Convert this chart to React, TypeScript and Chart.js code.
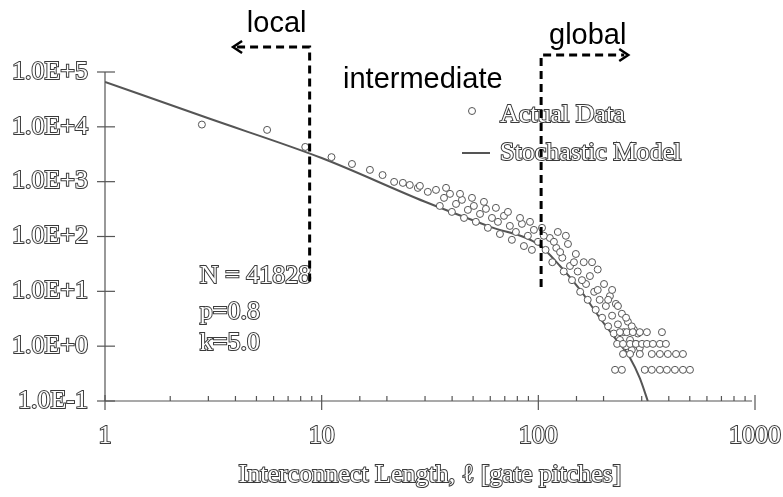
import React, { useEffect, useRef } from 'react';
import { Chart, registerables } from 'chart.js';
Chart.register(...registerables);

// ---- Data ----
const xTickValues = [1, 10, 100, 1000];
const xTickLabels = ['1', '10', '100', '1000'];
const yTickValues = [0.1, 1, 10, 100, 1000, 10000, 100000];
const yTickLabels = ['1.0E-1', '1.0E+0', '1.0E+1', '1.0E+2', '1.0E+3', '1.0E+4', '1.0E+5'];

const modelLength = [1, 3, 10, 30, 60, 100, 126, 156, 192, 226, 265, 294, 320];
const modelCount = [66000, 14300, 2700, 430, 150, 72, 29, 10.6, 3.3, 1.4, 0.61, 0.26, 0.1];

const actualLocal: [number, number][] = [
  [2.8, 11000], [5.6, 8800], [8.4, 4300], [11.1, 2800], [13.8, 2100], [16.7, 1640],
  [19.1, 1320], [21.6, 990], [23.7, 950], [25.5, 870], [27.8, 770],
];
const actualIntermediate: [number, number][] = [
  [28.4, 838], [30.9, 652], [33.7, 708], [36.7, 506], [39.1, 599], [41.7, 393], [44.4, 466],
  [47.3, 306], [50.4, 361], [53.8, 258], [57.3, 319], [61.1, 218], [65.1, 185], [69.4, 238],
  [73.9, 156], [78.8, 121], [84.0, 170], [89.5, 103], [95.4, 132], [99.6, 80],
  [35.1, 361], [39.9, 281], [45.4, 218], [51.5, 185], [58.5, 144], [66.5, 111], [75.5, 87],
  [85.8, 67], [93.4, 57],
  [37.5, 771], [43.5, 599], [49.4, 506], [56.1, 428], [63.7, 333], [72.4, 281], [82.3, 218], [91.5, 185],
];
const actualGlobal: [number, number][] = [
  [104, 144], [108, 57], [113, 94], [116, 34], [121, 62], [123, 121], [129, 41], [131, 23],
  [137, 73], [140, 29], [143, 16], [149, 48], [152, 23], [156, 9.8], [162, 34], [166, 13.6],
  [169, 7.0], [173, 19], [181, 9.8], [184, 4.6], [188, 25], [192, 7.0], [197, 3.3], [201, 13.6],
  [205, 5.4], [210, 2.3], [214, 8.2], [219, 3.6], [223, 1.7], [228, 5.9], [233, 2.5], [238, 1.3],
  [243, 3.9], [248, 1.8], [254, 1.0], [259, 2.8], [265, 1.3], [270, 0.85], [276, 2.0], [282, 1.1],
  [288, 1.7], [294, 0.93],
  [106, 103], [118, 80], [126, 52], [134, 103], [146, 34], [159, 16], [177, 34], [188, 10.6],
  [210, 7.0], [219, 10.6], [233, 5.4], [254, 3.3], [270, 2.3],
];
const tailRowCounts = [1.8, 1.1, 0.72, 0.37];
const tailRowLengths = [
  [238, 256, 273, 294, 317, 372],
  [231, 246, 265, 282, 301, 317, 338, 364, 388],
  [246, 265, 294, 334, 364, 396, 432, 465],
  [226, 243, 310, 334, 364, 392, 427, 465, 501],
];

const statsLines = ['N = 41828', 'p=0.8', 'k=5.0'];
const statsAnchorX = 2.74;
const statsAnchorY = [19.1, 4.2, 1.14];

const localBoundary = 8.8;
const globalBoundary = 103;

const SERIF = '"Liberation Serif", "Times New Roman", serif';
const SANS = '"Liberation Sans", Arial, sans-serif';
const INK = '#3a3a3a';

function matchLabel(v: number, vals: number[], labels: string[]) {
  for (let i = 0; i < vals.length; i++) {
    if (Math.abs(v / vals[i] - 1) < 1e-6) return labels[i];
  }
  return '';
}

function hollowText(ctx: CanvasRenderingContext2D, t: string, x: number, y: number) {
  ctx.lineWidth = 2;
  ctx.strokeStyle = INK;
  ctx.strokeText(t, x, y);
  ctx.fillStyle = '#fff';
  ctx.fillText(t, x, y);
}

const decor = {
  id: 'decor',
  beforeDatasetsDraw(chart: any) {
    const { ctx, chartArea: a, scales } = chart;
    const xs = scales.x, ys = scales.y;
    ctx.save();
    ctx.strokeStyle = '#555';
    ctx.lineWidth = 1.2;
    ctx.beginPath();
    ctx.moveTo(a.left, a.top);
    ctx.lineTo(a.left, a.bottom);
    ctx.moveTo(a.left, a.bottom);
    ctx.lineTo(a.right - 3, a.bottom);
    ctx.stroke();
    for (const v of yTickValues) {
      const py = ys.getPixelForValue(v);
      ctx.beginPath();
      ctx.moveTo(a.left - 8, py);
      ctx.lineTo(a.left + 10, py);
      ctx.stroke();
    }
    for (const t of xs.ticks) {
      const px = xs.getPixelForValue(t.value);
      const major = matchLabel(t.value, xTickValues, xTickLabels) !== '';
      ctx.beginPath();
      if (major) {
        ctx.moveTo(px, a.bottom - 6);
        ctx.lineTo(px, a.bottom + 9);
      } else {
        ctx.moveTo(px, a.bottom);
        ctx.lineTo(px, a.bottom - 5);
      }
      ctx.stroke();
    }
    ctx.restore();
  },
  afterDatasetsDraw(chart: any) {
    const { ctx, chartArea: a, scales } = chart;
    const xs = scales.x, ys = scales.y;
    ctx.save();

    ctx.font = `26px ${SERIF}`;
    ctx.textAlign = 'left';
    ctx.textBaseline = 'middle';
    statsLines.forEach((s, i) => {
      hollowText(ctx, s, xs.getPixelForValue(statsAnchorX), ys.getPixelForValue(statsAnchorY[i]));
    });

    // legend
    const lx = 472;
    const ly1 = a.top + 43;
    const ly2 = a.top + 81;
    ctx.beginPath();
    ctx.arc(lx, ly1 - 4, 3.5, 0, Math.PI * 2);
    ctx.fillStyle = '#fff';
    ctx.fill();
    ctx.strokeStyle = '#555';
    ctx.lineWidth = 1;
    ctx.stroke();
    ctx.beginPath();
    ctx.strokeStyle = '#555';
    ctx.lineWidth = 2;
    ctx.moveTo(lx - 10, ly2);
    ctx.lineTo(lx + 18, ly2);
    ctx.stroke();
    ctx.font = `26px ${SERIF}`;
    hollowText(ctx, chart.data.datasets[0].label, 500, ly1);
    hollowText(ctx, chart.data.datasets[1].label, 500, ly2);

    ctx.textAlign = 'center';
    hollowText(ctx, 'Interconnect Length, \u2113 [gate pitches]', (a.left + a.right) / 2, a.bottom + 74);

    ctx.fillStyle = '#000';
    ctx.font = `29px ${SANS}`;
    ctx.textAlign = 'center';
    ctx.fillText('local', xs.getPixelForValue(6.2), a.top - 48);
    ctx.fillText('global', xs.getPixelForValue(169), a.top - 36);
    ctx.fillText('intermediate', xs.getPixelForValue(29.3), a.top + 8);

    ctx.strokeStyle = '#000';
    ctx.lineWidth = 3;
    ctx.setLineDash([8, 5]);
    const lxp = xs.getPixelForValue(localBoundary);
    const gxp = xs.getPixelForValue(globalBoundary);
    const lTop = a.top - 25;
    const gTop = a.top - 17;
    const lTip = xs.getPixelForValue(3.9);
    const gTip = xs.getPixelForValue(260);
    ctx.beginPath();
    ctx.moveTo(lTip + 4, lTop);
    ctx.lineTo(lxp, lTop);
    ctx.lineTo(lxp, ys.getPixelForValue(15));
    ctx.stroke();
    ctx.beginPath();
    ctx.moveTo(gxp, ys.getPixelForValue(12));
    ctx.lineTo(gxp, gTop);
    ctx.lineTo(gTip - 4, gTop);
    ctx.stroke();
    ctx.setLineDash([]);
    ctx.lineWidth = 2.5;
    ctx.beginPath();
    ctx.moveTo(lTip + 9, lTop - 6);
    ctx.lineTo(lTip, lTop);
    ctx.lineTo(lTip + 9, lTop + 6);
    ctx.moveTo(gTip - 9, gTop - 6);
    ctx.lineTo(gTip, gTop);
    ctx.lineTo(gTip - 9, gTop + 6);
    ctx.stroke();

    ctx.restore();
  },
};

export default function App() {
  const ref = useRef<HTMLCanvasElement>(null);
  useEffect(() => {
    document.body.style.margin = '0';
    const actual: { x: number; y: number }[] = [];
    [...actualLocal, ...actualIntermediate, ...actualGlobal].forEach(([x, y]) => actual.push({ x, y }));
    tailRowCounts.forEach((c, i) => tailRowLengths[i].forEach((x) => actual.push({ x, y: c })));
    const chart = new Chart(ref.current!, {
      type: 'scatter',
      data: {
        datasets: [
          {
            label: 'Actual Data',
            data: actual,
            pointRadius: 3.5,
            pointBackgroundColor: '#fff',
            pointBorderColor: '#555',
            pointBorderWidth: 1,
            showLine: false,
            order: 1,
          },
          {
            label: 'Stochastic Model',
            data: modelLength.map((x, i) => ({ x, y: modelCount[i] })),
            showLine: true,
            borderColor: '#555',
            borderWidth: 2,
            pointRadius: 0,
            cubicInterpolationMode: 'monotone',
            order: 2,
          },
        ],
      },
      options: {
        responsive: false,
        animation: false,
        layout: { padding: { top: 72, right: 28, bottom: 0, left: 0 } },
        plugins: { legend: { display: false }, tooltip: { enabled: false } },
        scales: {
          x: {
            type: 'logarithmic',
            min: 1,
            max: 1000,
            grid: { display: false, drawTicks: false },
            border: { display: false },
            afterFit: (s: any) => { s.height = 96; s.paddingLeft = 0; s.paddingRight = 0; },
            ticks: {
              autoSkip: false,
              maxRotation: 0,
              padding: 20,
              color: '#fff',
              textStrokeColor: INK,
              textStrokeWidth: 2,
              font: { family: SERIF, size: 26 },
              callback: (v: any) => matchLabel(Number(v), xTickValues, xTickLabels),
            },
          },
          y: {
            type: 'logarithmic',
            min: 0.1,
            max: 100000,
            grid: { display: false, drawTicks: false },
            border: { display: false },
            afterFit: (s: any) => { s.width = 105; s.paddingTop = 0; s.paddingBottom = 0; },
            afterBuildTicks: (s: any) => { s.ticks = yTickValues.map((v) => ({ value: v })); },
            ticks: {
              autoSkip: false,
              padding: 17,
              color: '#fff',
              textStrokeColor: INK,
              textStrokeWidth: 2,
              font: { family: SERIF, size: 26 },
              callback: (v: any) => matchLabel(Number(v), yTickValues, yTickLabels),
            },
          },
        },
      },
      plugins: [decor],
    } as any);
    return () => chart.destroy();
  }, []);
  return <canvas ref={ref} width={783} height={497} style={{ display: 'block' }} />;
}
